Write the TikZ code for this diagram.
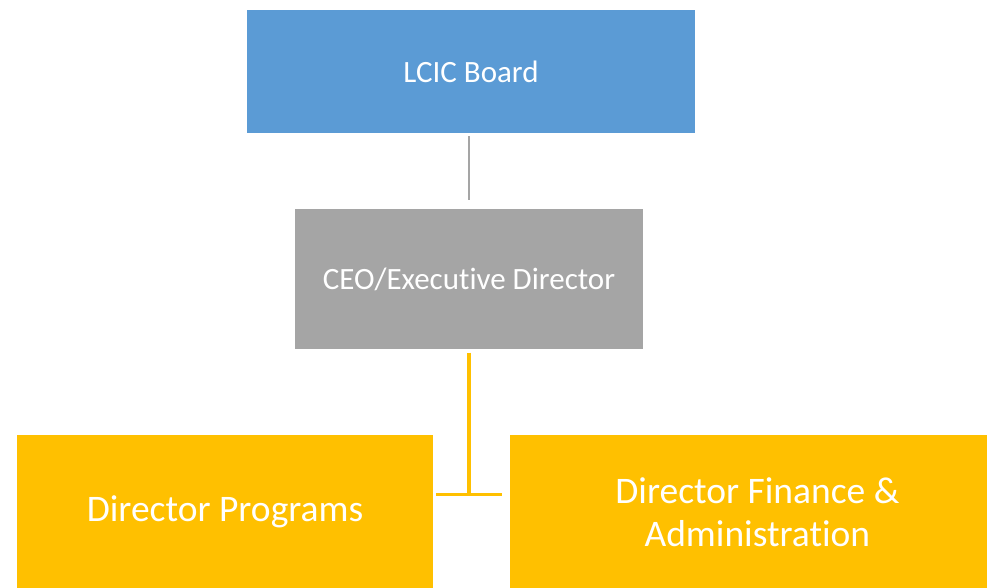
\documentclass[tikz,border=0pt]{standalone}
\usepackage{fontspec}
\setmainfont[Ligatures=NoCommon]{Carlito}
\usetikzlibrary{positioning}
\definecolor{boardblue}{HTML}{5B9BD5}
\definecolor{ceogray}{HTML}{A5A5A5}
\definecolor{diryellow}{HTML}{FFC000}

\begin{document}
\begin{tikzpicture}[x=1pt,y=1pt,every node/.style={inner sep=0pt,align=center,text=white}]
	\useasboundingbox (0,0) rectangle (987,-587);

	\node[fill=boardblue, minimum width=448pt, minimum height=123pt, font=\fontsize{31}{37}\selectfont] (Board) at (471,-71.5) {LCIC Board};
	\node[fill=ceogray, minimum width=348pt, minimum height=140pt, font=\fontsize{31}{37}\selectfont, below=76pt of Board, xshift=-2pt] (CEO) {CEO/Executive Director};
	\node[fill=diryellow, minimum width=416pt, minimum height=154pt, font=\fontsize{37.5}{44}\selectfont, below=85pt of CEO, xshift=-244pt] (Programs) {Director Programs};
	\node[fill=diryellow, minimum width=494pt, minimum height=154pt, font=\fontsize{37.5}{43}\selectfont, right=77pt of Programs] (Finance) {Director Finance \&\\Administration};

	\coordinate[below=145pt of CEO.south] (tee);

	\draw[ceogray, line width=2.5pt, shorten <=3pt, shorten >=9pt] (Board.south -| CEO.north) -- (CEO.north);
	\draw[diryellow, line width=4pt, shorten <=3pt] (CEO.south) -- (tee);
	\draw[diryellow, line width=2.5pt, shorten <=3pt, shorten >=8pt] (Programs.east |- tee) -- (Finance.west |- tee);
\end{tikzpicture}
\end{document}
